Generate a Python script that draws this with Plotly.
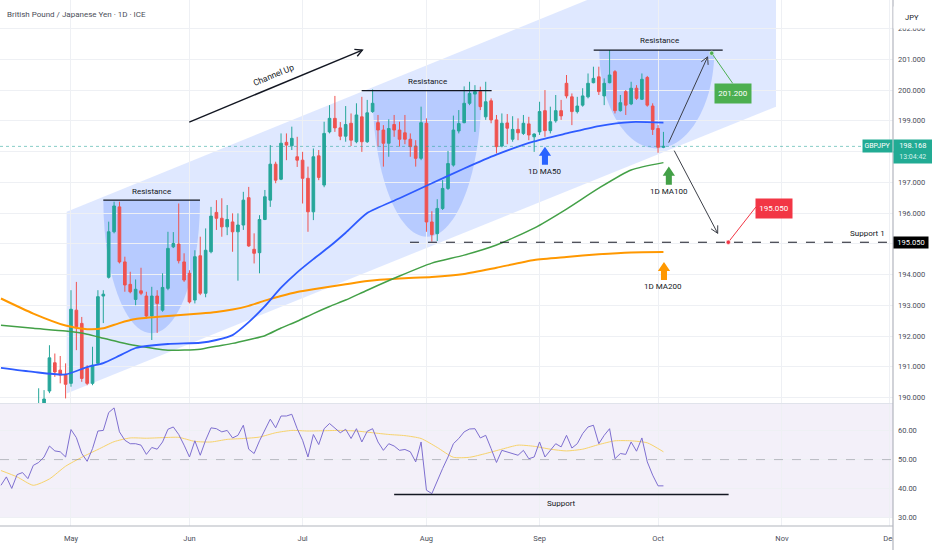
import math
import pandas as pd
import plotly.graph_objects as go

# bar index 0 = 2025-04-14 (weekday bars, as TradingView draws forex)
bars = pd.bdate_range("2025-04-14", "2025-12-31")

# --- GBPJPY daily candles, bar index 7 .. 123 ---
candle_idx = list(range(7, 124))
opens = [189.45, 189.60, 190.21, 191.13, 190.89, 190.73, 190.46, 192.84, 192.41, 190.95,
         190.46, 191.11, 193.30, 193.91, 195.39, 196.20, 194.41, 193.68, 193.19, 193.47,
         193.30, 192.65, 193.30, 192.84, 193.55, 194.90, 194.99, 194.41, 194.04, 193.17,
         194.61, 193.39, 194.74, 196.02, 195.83, 195.55, 195.71, 195.39, 195.61, 196.50,
         194.82, 194.71, 195.79, 196.42, 197.59, 197.10, 198.30, 198.19, 197.83, 197.72,
         197.13, 196.04, 197.86, 196.91, 198.64, 199.08, 198.77, 198.50, 198.92, 198.32,
         199.13, 198.32, 199.30, 198.94, 198.70, 198.27, 198.88, 198.70, 198.61, 198.40,
         198.18, 197.78, 198.92, 195.71, 195.33, 196.15, 196.80, 197.56, 198.67, 198.94,
         199.57, 199.87, 199.95, 199.13, 199.65, 199.03, 198.18, 198.93, 198.40, 198.72,
         198.59, 198.90, 198.48, 198.64, 199.33, 198.68, 199.00, 199.33, 200.22, 199.78,
         199.30, 199.51, 199.78, 200.24, 200.43, 199.81, 200.24, 200.60, 199.33, 199.95,
         199.55, 200.06, 199.70, 200.41, 199.48, 198.75, 198.14]
highs = [190.30, 190.24, 191.70, 191.43, 191.35, 191.11, 193.49, 193.76, 192.62, 191.05,
         191.65, 193.49, 193.49, 195.72, 196.37, 196.37, 194.58, 194.09, 193.84, 194.22,
         193.44, 193.60, 193.49, 194.04, 195.39, 195.38, 196.31, 194.69, 194.14, 194.79,
         195.23, 195.50, 196.20, 196.42, 196.48, 196.26, 195.99, 195.99, 196.69, 196.85,
         195.34, 195.93, 196.75, 198.21, 197.67, 198.59, 198.59, 198.81, 198.48, 197.99,
         197.51, 198.10, 198.05, 198.97, 199.51, 199.81, 198.96, 199.48, 199.24, 199.57,
         199.78, 199.68, 200.02, 199.19, 198.86, 199.05, 199.19, 198.97, 199.19, 198.59,
         198.37, 199.46, 199.08, 196.06, 196.45, 197.07, 198.02, 199.17, 199.35, 200.12,
         200.27, 200.16, 200.11, 200.27, 199.73, 199.19, 199.24, 199.22, 199.15, 199.08,
         199.19, 199.13, 198.59, 199.62, 200.00, 199.46, 199.84, 199.68, 200.49, 199.89,
         199.78, 200.06, 200.54, 200.76, 200.76, 200.38, 201.30, 200.65, 199.84, 200.00,
         200.27, 200.16, 200.54, 200.46, 199.57, 198.86, 198.64]
lows = [189.30, 189.45, 190.14, 190.67, 190.46, 189.97, 190.35, 191.54, 190.51, 190.40,
        190.40, 191.05, 192.42, 193.87, 195.34, 194.36, 193.44, 193.39, 193.00, 193.33,
        192.57, 191.87, 192.10, 192.79, 193.49, 194.86, 194.36, 193.76, 193.06, 193.06,
        193.33, 193.26, 194.69, 195.45, 195.23, 195.28, 194.74, 193.80, 195.45, 194.90,
        194.36, 194.04, 195.77, 196.20, 196.97, 197.07, 197.72, 198.05, 197.50, 196.31,
        195.39, 195.77, 197.07, 196.84, 198.59, 198.64, 198.37, 198.32, 198.18, 198.27,
        197.99, 198.28, 199.26, 198.16, 197.51, 197.83, 198.48, 198.16, 198.24, 197.83,
        197.51, 197.72, 195.39, 195.07, 195.09, 196.10, 196.75, 197.51, 198.59, 198.92,
        199.51, 198.64, 199.35, 199.03, 198.92, 197.94, 198.14, 198.24, 198.32, 198.37,
        198.54, 198.37, 197.99, 198.54, 198.48, 198.59, 198.94, 199.03, 199.73, 198.86,
        199.24, 199.46, 199.73, 200.22, 199.84, 199.51, 200.22, 199.24, 199.30, 199.19,
        199.51, 199.68, 199.68, 199.46, 198.54, 197.96, 198.11]
closes = [189.72, 189.95, 191.29, 190.83, 190.73, 190.43, 192.87, 192.30, 190.62, 190.46,
          191.05, 193.28, 193.36, 195.39, 196.23, 194.41, 193.66, 193.44, 193.52, 193.39,
          192.65, 193.30, 193.06, 193.58, 194.85, 195.01, 194.45, 193.82, 193.11, 194.58,
          193.39, 194.79, 195.90, 195.83, 195.55, 195.79, 195.39, 195.61, 196.42, 194.93,
          194.69, 195.79, 196.53, 197.59, 197.07, 198.27, 198.21, 198.43, 197.72, 197.13,
          196.04, 197.83, 197.16, 198.59, 199.08, 198.77, 198.50, 198.88, 198.37, 199.19,
          198.32, 199.26, 199.57, 198.70, 198.27, 198.75, 198.70, 198.40, 198.40, 198.16,
          197.78, 198.94, 195.71, 195.30, 196.15, 196.80, 197.61, 198.70, 198.91, 199.57,
          199.89, 199.95, 199.46, 199.62, 199.03, 198.16, 198.92, 198.76, 198.72, 198.61,
          198.92, 198.54, 198.57, 199.30, 198.68, 198.97, 199.33, 199.16, 199.81, 199.30,
          199.48, 199.81, 200.22, 200.38, 199.95, 200.22, 200.49, 199.33, 199.59, 199.51,
          200.06, 199.73, 200.35, 199.51, 198.72, 198.14, 198.168]

# --- moving averages ---
ma_idx = [0, 6, 12, 16, 19, 22, 25, 31, 37, 40, 43, 46, 49, 52, 55, 58, 61, 64, 68, 74,
          80, 86, 92, 99, 105, 111, 117, 123]
ma50 = [190.96, 190.83, 190.75, 190.99, 191.12, 191.36, 191.61, 191.74, 191.78, 191.87,
        192.03, 192.45, 192.97, 193.57, 194.07, 194.50, 194.91, 195.36, 196.00, 196.48,
        196.97, 197.45, 197.90, 198.33, 198.59, 198.83, 198.96, 198.94]
ma100 = [192.35, 192.25, 192.16, 192.06, 191.93, 191.80, 191.69, 191.54, 191.57, 191.67,
         191.76, 191.88, 192.01, 192.26, 192.48, 192.73, 192.96, 193.17, 193.49, 193.95,
         194.37, 194.63, 194.96, 195.51, 196.13, 196.81, 197.40, 197.64]
ma200 = [193.22, 192.73, 192.34, 192.22, 192.25, 192.42, 192.55, 192.65, 192.73, 192.78,
         192.86, 192.98, 193.15, 193.30, 193.43, 193.52, 193.60, 193.68, 193.79, 193.87,
         193.92, 194.02, 194.22, 194.47, 194.57, 194.66, 194.72, 194.73]

# --- RSI(14) and its MA ---
rsi = [41.1, 44.0, 40.0, 44.8, 45.5, 43.4, 48.0, 49.0, 50.9, 54.7,
       53.0, 52.7, 50.9, 60.4, 57.6, 52.1, 49.4, 53.8, 59.9, 60.1,
       66.3, 67.9, 59.6, 56.7, 55.5, 55.5, 55.0, 51.8, 54.2, 53.6,
       56.1, 60.5, 61.3, 58.7, 55.0, 50.9, 56.5, 51.5, 56.7, 61.0,
       60.7, 59.6, 60.1, 57.5, 58.4, 61.9, 53.6, 52.1, 56.5, 60.5,
       64.0, 61.0, 65.1, 65.1, 65.7, 60.7, 56.7, 50.9, 58.7, 55.2,
       60.7, 62.5, 61.0, 59.3, 60.5, 57.3, 60.7, 56.1, 59.8, 60.7,
       56.1, 53.2, 55.5, 54.7, 53.2, 53.5, 52.7, 49.2, 56.1, 39.4,
       38.2, 42.8, 46.9, 50.9, 55.5, 57.3, 59.6, 60.6, 60.7, 57.5,
       58.4, 53.8, 49.0, 53.2, 52.7, 52.1, 51.5, 53.2, 50.3, 50.9,
       56.1, 50.9, 53.2, 55.5, 54.4, 58.4, 54.0, 55.5, 59.0, 61.3,
       61.9, 55.5, 58.4, 60.7, 50.3, 52.1, 51.8, 56.1, 52.9, 57.5,
       49.2, 44.6, 40.9, 40.9]
rsi_ma_idx = list(range(0, 124, 3))
rsi_ma = [46.2, 44.0, 41.1, 43.3, 47.7, 50.8, 53.5, 56.2, 57.5, 57.4,
          57.6, 57.7, 56.3, 56.1, 57.0, 57.3, 57.8, 59.3, 60.1, 59.9,
          60.0, 60.1, 59.9, 59.3, 58.7, 58.3, 57.3, 54.2, 50.8, 50.8,
          52.1, 53.6, 55.0, 54.6, 53.6, 53.0, 53.6, 55.2, 56.5, 56.5,
          55.8, 52.7]

last_price = 198.168
last_time = "13:04:42"
target_up = 201.200
support_1 = 195.050

# axis windows
X0, X1 = -0.18, 165.62
YB, YT = 189.82, 202.93
RB, RT = 26.99, 69.25
SX = 893 / (X1 - X0)   # px per bar
SY = 403 / (YT - YB)   # px per yen

UP, DN = "#26a69a", "#ef5350"
INK = "#131722"
GRID = "#eef0f4"
FONT = "Roboto, sans-serif"

months = ["May", "Jun", "Jul", "Aug", "Sep", "Oct", "Nov", "Dec"]
month_ticks = []
for m in range(5, 13):
    month_ticks.append(int(next(i for i, d in enumerate(bars) if d.month == m)))

# price ticks; the ones sitting under the price tags are hidden like on TradingView
price_ticks = list(range(190, 203))
price_text = ["" if v in (195, 198) else f"{v}.000" for v in price_ticks]

fig = go.Figure()

fig.add_trace(go.Candlestick(
    x=candle_idx, open=opens, high=highs, low=lows, close=closes,
    increasing=dict(line=dict(color=UP, width=1), fillcolor=UP),
    decreasing=dict(line=dict(color=DN, width=1), fillcolor=DN),
    whiskerwidth=0, hoverinfo="skip", showlegend=False))

for vals, col, w in [(ma200, "#ff9800", 2), (ma100, "#43a047", 1.5), (ma50, "#2e5bff", 1.8)]:
    fig.add_trace(go.Scatter(x=ma_idx, y=vals, mode="lines",
                             line=dict(color=col, width=w, shape="spline", smoothing=0.6),
                             hoverinfo="skip", showlegend=False))

fig.add_trace(go.Scatter(x=rsi_ma_idx, y=rsi_ma, yaxis="y2", mode="lines",
                         line=dict(color="#f7d36b", width=1, shape="spline", smoothing=0.6),
                         hoverinfo="skip", showlegend=False))
fig.add_trace(go.Scatter(x=list(range(len(rsi))), y=rsi, yaxis="y2", mode="lines",
                         line=dict(color="#7e6fd0", width=1),
                         hoverinfo="skip", showlegend=False))

shapes = []


def P(x, y):
    return f"{x:.3f},{y:.4f}"


def bowl(cx, rx, ytop, ybot):
    k = 0.5523
    ry = ytop - ybot
    return (f"M {P(cx - rx, ytop)} C {P(cx - rx, ytop - k * ry)} {P(cx - k * rx, ybot)} {P(cx, ybot)} "
            f"C {P(cx + k * rx, ybot)} {P(cx + rx, ytop - k * ry)} {P(cx + rx, ytop)} Z")


def chevron(xh, yh, xt, yt, size=8, ang=28):
    dx, dy = (xh - xt) * SX, (yh - yt) * SY
    n = math.hypot(dx, dy)
    ux, uy = dx / n, dy / n
    pts = []
    for s in (1, -1):
        a = math.radians(ang) * s
        cx = -ux * math.cos(a) + uy * math.sin(a)
        cy = -ux * math.sin(a) - uy * math.cos(a)
        pts.append((xh + cx * size / SX, yh + cy * size / SY))
    return f"M {P(*pts[0])} L {P(xh, yh)} L {P(*pts[1])}"


def fat_arrow(x, y, col):
    hw, sw, hh = 1.14, 0.56, 0.293
    path = (f"M {P(x, y)} L {P(x + hw, y - hh)} L {P(x + sw, y - hh)} L {P(x + sw, y - 2 * hh)} "
            f"L {P(x - sw, y - 2 * hh)} L {P(x - sw, y - hh)} L {P(x - hw, y - hh)} Z")
    return dict(type="path", path=path, xref="x", yref="y", fillcolor=col,
                line=dict(width=0), layer="above")


# channel up
shapes.append(dict(type="path", xref="x", yref="y", layer="below",
                   path=f"M {P(12.2, 196.04)} L {P(143.9, 205.43)} L {P(143.9, 199.46)} L {P(12.2, 190.13)} Z",
                   fillcolor="rgba(41,98,255,0.15)", line=dict(width=0)))
# resistance bowls + lines
for cx, rx, top, bot, x0, x1 in [(27.98, 8.97, 196.42, 192.09, 19.0, 36.95),
                                 (79.1, 10.1, 199.98, 195.23, 66.97, 91.1),
                                 (121.77, 10.68, 201.30, 198.10, 110.05, 134.0)]:
    shapes.append(dict(type="path", xref="x", yref="y", layer="below", path=bowl(cx, rx, top, bot),
                       fillcolor="rgba(41,98,255,0.22)", line=dict(width=0)))
    shapes.append(dict(type="line", xref="x", yref="y", x0=x0, x1=x1, y0=top, y1=top,
                       line=dict(color=INK, width=1.2)))

# last price line
shapes.append(dict(type="line", xref="x", yref="y", x0=X0, x1=X1, y0=last_price, y1=last_price,
                   line=dict(color="rgba(38,166,154,0.55)", width=1, dash="dot")))
# support 1 dashed
shapes.append(dict(type="line", xref="x", yref="y", x0=75.94, x1=X1, y0=support_1, y1=support_1,
                   line=dict(color=INK, width=1, dash="dash")))

# arrows
for (xt, yt, xh, yh, col, w) in [(34.96, 198.96, 67.09, 201.30, INK, 1.4),
                                 (123.97, 198.29, 131.2, 201.08, "#3c3f48", 1),
                                 (125.0, 198.03, 133.07, 195.34, "#3c3f48", 1)]:
    shapes.append(dict(type="line", xref="x", yref="y", x0=xt, y0=yt, x1=xh, y1=yh,
                       line=dict(color=col, width=w)))
    shapes.append(dict(type="path", xref="x", yref="y", path=chevron(xh, yh, xt, yt),
                       line=dict(color=col, width=w)))

# target connectors and dots
shapes.append(dict(type="line", xref="x", yref="y", x0=131.96, y0=target_up, x1=135.85, y1=200.22,
                   line=dict(color="#4caf50", width=1)))
shapes.append(dict(type="line", xref="x", yref="y", x0=135.04, y0=support_1, x1=140.18, y1=196.20,
                   line=dict(color="#f23645", width=1)))
for xc, yc, col in [(131.96, target_up, "#4caf50"), (135.04, support_1, "#f23645")]:
    shapes.append(dict(type="circle", xref="x", yref="y", xsizemode="pixel", ysizemode="pixel",
                       xanchor=xc, yanchor=yc, x0=-2.2, x1=2.2, y0=-2.2, y1=2.2,
                       fillcolor=col, line=dict(color="white", width=0.6)))

# MA pointer arrows
shapes.append(fat_arrow(101.0, 198.16, "#2962ff"))
shapes.append(fat_arrow(124.0, 197.51, "#43a047"))
shapes.append(fat_arrow(123.1, 194.41, "#ff9800"))

# RSI pane
shapes.append(dict(type="rect", xref="x", yref="y2", x0=X0, x1=X1, y0=30, y1=70, layer="below",
                   fillcolor="rgba(126,87,194,0.09)", line=dict(width=0)))
shapes.append(dict(type="line", xref="x", yref="y2", x0=X0, x1=X1, y0=50, y1=50,
                   line=dict(color="rgba(120,123,134,0.45)", width=1, dash="dash")))
shapes.append(dict(type="line", xref="x", yref="y2", x0=73.0, x1=135.1, y0=37.9, y1=37.9,
                   line=dict(color=INK, width=1.6)))

# frame
shapes.append(dict(type="rect", xref="paper", yref="paper", x0=1.0, x1=1.06, y0=-0.06, y1=-0.001,
                   fillcolor="white", line=dict(width=0), layer="above"))
shapes.append(dict(type="line", xref="paper", yref="paper", x0=0, x1=1, y0=0.2329, y1=0.2329,
                   line=dict(color="#e0e3eb", width=1)))
shapes.append(dict(type="line", xref="paper", yref="paper", x0=0, x1=1, y0=0, y1=0,
                   line=dict(color="#b2b5be", width=1.2), layer="above"))
shapes.append(dict(type="line", xref="paper", yref="paper", x0=1, x1=1, y0=-0.0456, y1=1,
                   line=dict(color="#b2b5be", width=1.2), layer="above"))

ann = []


def text(x, y, s, size=8, yref="y", xanchor="center", angle=0, color=INK):
    ann.append(dict(x=x, y=y, xref="x", yref=yref, text=s, showarrow=False, xanchor=xanchor,
                    yanchor="middle", textangle=angle, font=dict(family=FONT, size=size, color=color)))


text(28.0, 196.71, "Resistance")
text(79.1, 200.29, "Resistance")
text(122.2, 201.60, "Resistance")
text(50.6, 200.48, "Channel Up", size=8.5, angle=-22.6)
text(101.0, 197.34, "1D MA50")
text(124.0, 196.69, "1D MA100")
text(123.0, 193.60, "1D MA200")
text(164.45, 195.34, "Support 1", xanchor="right")
text(104.0, 34.76, "Support", yref="y2")

# price labels
ann.append(dict(x=135.9, y=199.88, xref="x", yref="y", text=f"{target_up:.3f}", showarrow=False,
                xanchor="center", yanchor="middle",
                bgcolor="#4caf50", width=34, height=17, borderpad=1,
                font=dict(family=FONT, size=8, color="white")))
ann.append(dict(x=143.58, y=196.15, xref="x", yref="y", text=f"{support_1:.3f}", showarrow=False,
                xanchor="center", yanchor="middle",
                bgcolor="#f23645", width=34, height=17, borderpad=1,
                font=dict(family=FONT, size=8, color="white")))

# header and axis tags
ann.append(dict(x=0.0056, y=1 - 14 / 526, xref="paper", yref="paper", xanchor="left", yanchor="middle",
                text="British Pound / Japanese Yen · 1D · ICE", showarrow=False,
                font=dict(family=FONT, size=8, color="#4a4e59")))
ann.append(dict(x=1.0, y=1 - 17.5 / 526, xref="paper", yref="paper", xanchor="left", yanchor="middle",
                text="JPY", showarrow=False, bgcolor="white", width=36, height=21, borderpad=0,
                font=dict(family=FONT, size=7.5, color=INK)))
ann.append(dict(x=877 / 893, y=last_price, xref="paper", yref="y", xanchor="center", yanchor="middle",
                text="GBPJPY", showarrow=False,
                bgcolor="#22ab94", width=28, height=11, borderpad=0.5,
                font=dict(family=FONT, size=7, color="white")))
# price tag: value row then countdown row, stacked on the right axis
ann.append(dict(x=1.0, y=1 - 145.8 / 526, xref="paper", yref="paper", xanchor="left", yanchor="middle",
                text=f"{last_price:.3f}", showarrow=False, bgcolor="#22ab94", width=37, height=11,
                borderpad=0.3, font=dict(family=FONT, size=7.5, color="white")))
ann.append(dict(x=1.0, y=1 - 157.3 / 526, xref="paper", yref="paper", xanchor="left", yanchor="middle",
                text=last_time, showarrow=False, bgcolor="#22ab94", width=37, height=10,
                borderpad=0.3, font=dict(family=FONT, size=7, color="#d6f2ed")))
ann.append(dict(x=1.0, y=support_1, xref="paper", yref="y", xanchor="left", yanchor="middle",
                text=f"{support_1:.3f}",
                showarrow=False, bgcolor="#000000", width=33, height=10, borderpad=0.5,
                font=dict(family=FONT, size=7.5, color="white")))

fig.update_layout(
    width=932, height=550, margin=dict(l=0, r=39, t=0, b=24),
    paper_bgcolor="white", plot_bgcolor="white", showlegend=False,
    font=dict(family=FONT, size=7.5, color=INK),
    shapes=shapes, annotations=ann,
    xaxis=dict(domain=[0, 1], range=[X0, X1], anchor="y2", tickvals=month_ticks, ticktext=months,
               showgrid=True, gridcolor=GRID, zeroline=False, ticks="", showline=False,
               rangeslider=dict(visible=False), ticklabelstandoff=6,
               tickfont=dict(family=FONT, size=7.5, color="#4a4e59")),
    yaxis=dict(domain=[0.2338, 1], range=[YB, YT], side="right", anchor="x",
               tickvals=price_ticks, ticktext=price_text,
               showgrid=True, gridcolor=GRID, zeroline=False, ticks="", ticklabelstandoff=4,
               tickfont=dict(family=FONT, size=7.5, color="#4a4e59")),
    yaxis2=dict(domain=[0, 0.2319], range=[RB, RT], side="right", anchor="x",
                tickvals=[30, 40, 50, 60], ticktext=["30.00", "40.00", "50.00", "60.00"],
                showgrid=True, gridcolor=GRID, zeroline=False, ticks="", ticklabelstandoff=4,
                tickfont=dict(family=FONT, size=7.5, color="#4a4e59")),
)

# the page body has a default 8px margin; drop it so the chart sits at the window's corner
fig.write_html("out.html", config={"displayModeBar": False},
               post_script="document.body.style.margin='0';")
